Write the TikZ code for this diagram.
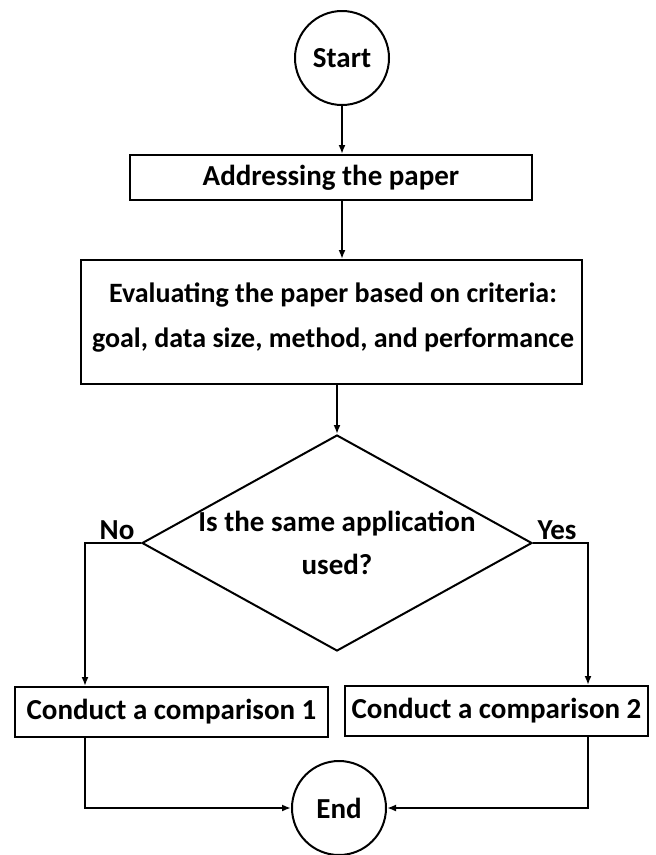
\documentclass[tikz,border=0pt]{standalone}
\usepackage{fontspec}
\setmainfont{Carlito}
\usetikzlibrary{arrows.meta,shapes.geometric}
\tikzset{
  base/.style={draw=black, line width=2pt, font=\fontsize{29}{44}\selectfont\bfseries, inner sep=0pt},
  circ/.style={base, circle, minimum size=94pt},
  box/.style={base, rectangle},
  dia/.style={base, diamond, minimum width=390pt, minimum height=216pt},
  lbl/.style={font=\fontsize{29}{43}\selectfont\bfseries, inner sep=0pt},
  arr/.style={line width=2pt, -{Latex[length=9pt,width=7pt]}},
  ln/.style={line width=2pt}
}
\begin{document}
\begin{tikzpicture}[x=1pt,y=-1pt]
\useasboundingbox (0,0) rectangle (656,855);
\node[circ] (start) at (342,58) {Start};
\node[box, minimum width=402pt, minimum height=45pt] (addr) at (331,177.5) {Addressing the paper};
\node[box, minimum width=501pt, minimum height=124pt] (eval) at (331.5,322) {};
\node[lbl, font=\fontsize{28}{45}\selectfont\bfseries, align=center] (evaltext) at (333,318) {Evaluating the paper based on criteria:\\goal, data size, method, and performance};
\node[dia] (dec) at (337,543) {};
\node[lbl, align=center] (qtext) at (337,543) {Is the same application\\used?};
\node[box, minimum width=313pt, minimum height=50pt] (cmp1) at (171.5,712) {Conduct a comparison 1};
\node[box, minimum width=303pt, minimum height=50pt] (cmp2) at (496.5,711) {Conduct a comparison 2};
\node[circ] (end) at (339,808) {End};
\node[lbl] (no) at (117,530) {No};
\node[lbl] (yes) at (557,530) {Yes};
\coordinate (noturn) at (85,543);
\coordinate (yesturn) at (588,543);
\coordinate (lbot) at (85,808);
\coordinate (rbot) at (588,808);
\draw[arr] (start) -- (start |- addr.north);
\draw[arr] (addr.south -| start) -- (start |- eval.north);
\draw[arr] (eval.south -| dec.north) -- (dec.north);
\draw[arr] (dec.west) -- (noturn) -- (noturn |- cmp1.north);
\draw[arr] (dec.east) -- (yesturn) -- (yesturn |- cmp2.north);
\draw[arr] (lbot |- cmp1.south) -- (lbot) -- (end.west);
\draw[arr] (rbot |- cmp2.south) -- (rbot) -- (end.east);
\end{tikzpicture}
\end{document}
